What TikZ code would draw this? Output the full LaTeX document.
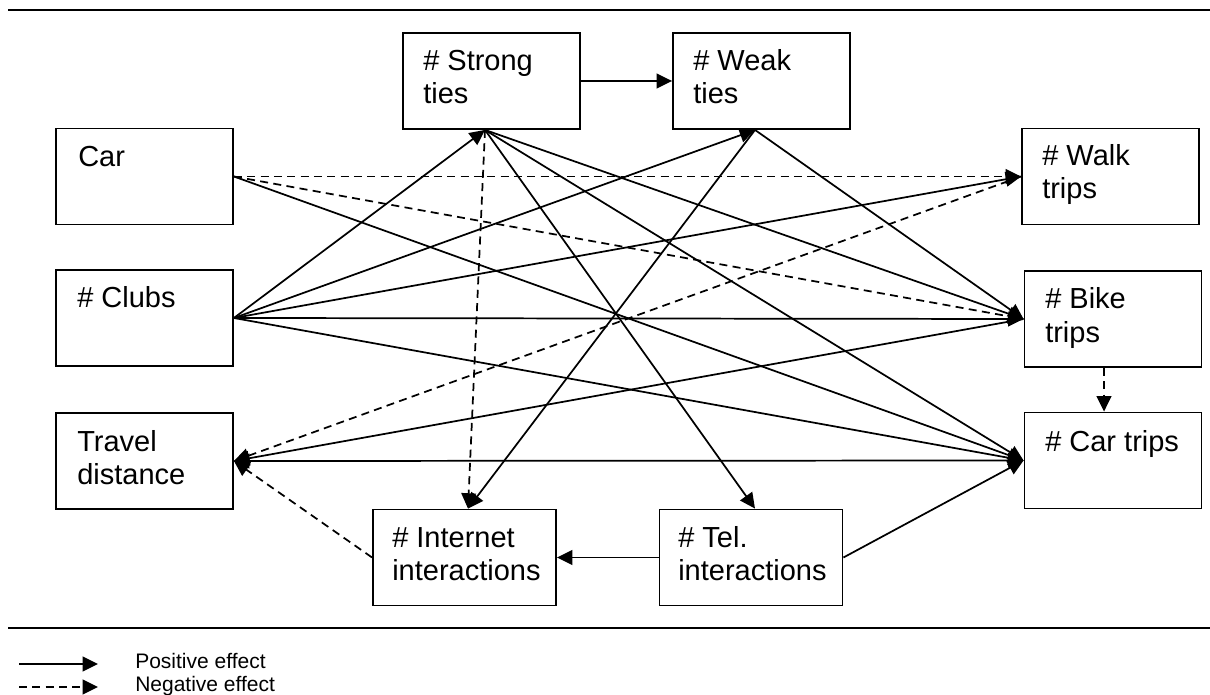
\documentclass[tikz,border=0pt]{standalone}
\usepackage{fontspec}
\setmainfont{Liberation Sans}
\usetikzlibrary{arrows.meta,calc}
\begin{document}
\begin{tikzpicture}[x=0.75pt,y=-0.75pt,
  box/.style={draw, line width=1.4pt, minimum width=177*0.75pt, minimum height=96*0.75pt, inner sep=0pt},
  wbox/.style={box, minimum width=183*0.75pt},
  lbl/.style={anchor=base west, inner sep=0pt, font=\fontsize{21.75}{24.75}\selectfont},
  leglbl/.style={anchor=base west, inner sep=0pt, font=\fontsize{15.75}{17.25}\selectfont},
  posarr/.style={line width=1.3pt, -{Triangle[length=11.5pt,width=11pt]}},
  negarr/.style={posarr, dash pattern=on 6pt off 4pt},
  botharr/.style={line width=1.3pt, {Triangle[length=11.5pt,width=11pt]}-{Triangle[length=11.5pt,width=11pt]}},
  rulestyle/.style={line width=1.6pt}]
\useasboundingbox (0,0) rectangle (1210,695);

% rules
\coordinate (r1a) at (8,10); \coordinate (r1b) at (1210,10);
\coordinate (r2a) at (8,628); \coordinate (r2b) at (1210,628);
\draw[rulestyle] (r1a) -- (r1b);
\draw[rulestyle] (r2a) -- (r2b);

% boxes
\node[box] (car) at (144.5,176.5) {};
\node[box] (clubs) at (144.5,318) {};
\node[box] (travel) at (144.5,461) {};
\node[box] (strong) at (491.5,81) {};
\node[box] (weak) at (761.5,81) {};
\node[box] (walk) at (1110.5,176.5) {};
\node[box] (bike) at (1113,319) {};
\node[box] (cartrips) at (1113,460.5) {};
\node[wbox] (internet) at (464.5,557.5) {};
\node[wbox] (tel) at (751,557.5) {};

% labels
\node[lbl] (carL) at (78,167) {\parbox[t]{150pt}{Car}};
\node[lbl] (clubsL) at (77,308) {\parbox[t]{150pt}{\# Clubs}};
\node[lbl] (travelL) at (77,451) {\parbox[t]{150pt}{Travel\\distance}};
\node[lbl] (strongL) at (423,71) {\parbox[t]{150pt}{\# Strong\\ties}};
\node[lbl] (weakL) at (693,71) {\parbox[t]{150pt}{\# Weak\\ties}};
\node[lbl] (walkL) at (1042,166) {\parbox[t]{150pt}{\# Walk\\trips}};
\node[lbl] (bikeL) at (1045,309) {\parbox[t]{150pt}{\# Bike\\trips}};
\node[lbl] (cartripsL) at (1045,451) {\parbox[t]{150pt}{\# Car trips}};
\node[lbl] (internetL) at (392,547) {\parbox[t]{160pt}{\# Internet\\interactions}};
\node[lbl] (telL) at (678,547) {\parbox[t]{160pt}{\# Tel.\\interactions}};

% connection points
\coordinate (sB) at ($(strong.south)+(-6.5,0)$);
\coordinate (wB) at ($(weak.south)+(-6.5,0)$);
\coordinate (iT) at ($(internet.north)+(3.5,0)$);
\coordinate (tT) at ($(tel.north)+(4,0)$);
\coordinate (bB) at ($(bike.south)+(-9,0)$);
\coordinate (cT) at ($(cartrips.north)+(-9,0)$);

% connectors
\draw[posarr] (strong.east) -- (weak.west);
\draw[posarr] (clubs.east) -- (sB);
\draw[posarr] (clubs.east) -- (wB);
\draw[posarr] (clubs.east) -- (walk.west);
\draw[posarr] (clubs.east) -- (bike.west);
\draw[posarr] (clubs.east) -- (cartrips.west);
\draw[negarr] (car.east) -- (walk.west);
\draw[negarr] (car.east) -- (bike.west);
\draw[posarr] (car.east) -- (cartrips.west);
\draw[negarr] (sB) -- (iT);
\draw[posarr] (sB) -- (tT);
\draw[posarr] (sB) -- (bike.west);
\draw[posarr] (sB) -- (cartrips.west);
\draw[posarr] (wB) -- (iT);
\draw[posarr] (wB) -- (bike.west);
\draw[negarr] (walk.west) -- (travel.east);
\draw[posarr] (bike.west) -- (travel.east);
\draw[botharr] (travel.east) -- (cartrips.west);
\draw[negarr] (internet.west) -- (travel.east);
\draw[posarr] (tel.west) -- (internet.east);
\draw[posarr] (tel.east) -- (cartrips.west);
\draw[negarr] (bB) -- (cT);

% legend
\coordinate (lp1) at (19,664); \coordinate (lp2) at (98,664);
\coordinate (ln1) at (19,687); \coordinate (ln2) at (98,687);
\draw[posarr] (lp1) -- (lp2);
\draw[negarr] (ln1) -- (ln2);
\node[leglbl] (legP) at (135,668) {Positive effect};
\node[leglbl] (legN) at (135,691) {Negative effect};
\end{tikzpicture}
\end{document}
